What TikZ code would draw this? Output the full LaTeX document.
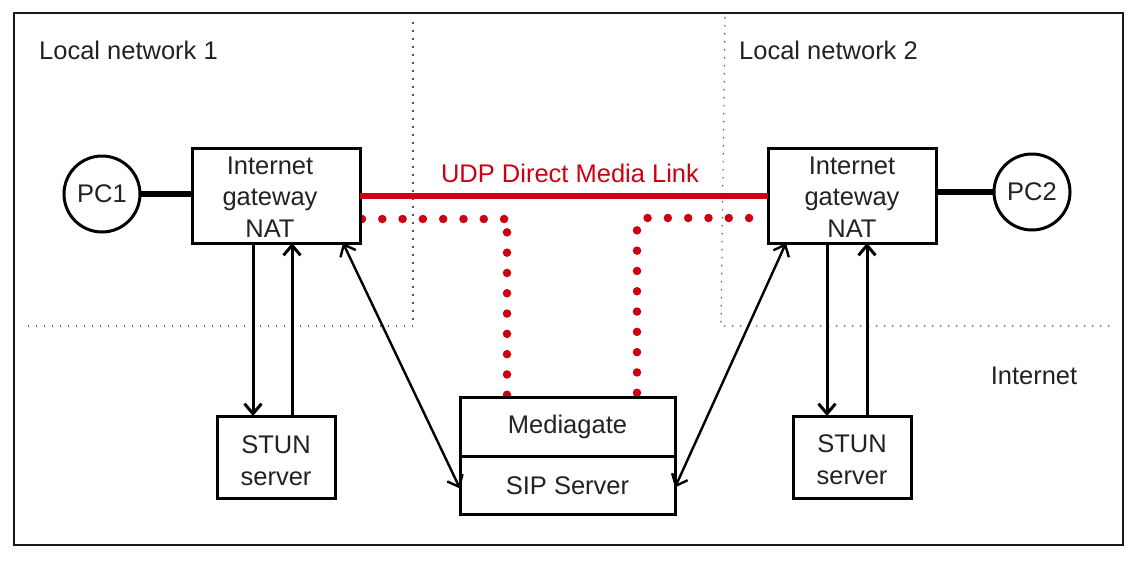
\documentclass[tikz,border=0pt]{standalone}
\usepackage{fontspec}
\usepackage{xcolor}
\setmainfont{Liberation Sans}
\usetikzlibrary{arrows.meta,positioning,backgrounds}
\definecolor{colorLink}{HTML}{CC0011}
\definecolor{colorText}{HTML}{222222}
\definecolor{colorZone}{HTML}{555555}

\begin{document}
\begin{tikzpicture}[x=1pt,y=-1pt,node distance=52pt,>={Straight Barb[length=10pt,width=17pt]},every node/.append style={align=center,text=colorText,font=\fontsize{25.5}{31.5}\selectfont},int/.style={draw, line width=3pt, circle, outer sep=0pt, inner sep=0pt, minimum size=76pt},box/.style={draw, line width=3pt, rectangle, fill=white, outer sep=0pt, inner sep=0pt},natbox/.style={box, minimum width=168pt, minimum height=95pt},stunbox/.style={box, minimum width=118pt, minimum height=82pt},srvbox/.style={box, minimum width=215pt, minimum height=58.5pt},link/.style={line width=2.4pt,<->},uplink/.style={line width=3pt,->},zone/.style={colorZone, line width=1.2pt, dash pattern=on 1.5pt off 6.5pt},media/.style={colorLink, line width=8.5pt, line cap=round, rounded corners=6pt, dash pattern=on 0pt off 20.3pt},]
    \useasboundingbox (0,0) rectangle (1131,560);
    \draw [line width=2pt, black!90] (14,13) rectangle (1123,545);
    \node [natbox] (GW1) at (276,195.5) {};
    \node [natbox, right=408pt of GW1] (GW2) {};
    \node [xshift=-6pt, yshift=-1.5pt] (GW1txt) at (GW1) {Internet\\gateway\\NAT};
    \node [yshift=-1.5pt] (GW2txt) at (GW2) {Internet\\gateway\\NAT};
    \node [int, left=of GW1, yshift=1.5pt] (PC1) {PC1};
    \node [int, right=58pt of GW2, yshift=3.5pt] (PC2) {PC2};
    \node [stunbox, below=173pt of GW1] (STUN1) {};
    \node [stunbox, below=173pt of GW2] (STUN2) {};
    \node [yshift=-3.5pt] (STUN1txt) at (STUN1) {STUN\\server};
    \node [yshift=-2.5pt] (STUN2txt) at (STUN2) {STUN\\server};
    \node [srvbox] (MG) at (567.5,427) {Mediagate};
    \node [srvbox, below=0pt of MG] (SIP) {SIP Server};
    \node (LAN1) at (128.5,50) {Local network 1};
    \node (LAN2) at (828.5,50) {Local network 2};
    \node (WAN) at (1034,376) {Internet};
    \node [text=colorLink] (UDP) at (570,173) {UDP Direct Media Link};
    \coordinate (zone1top) at (413,22);
    \coordinate (zone1in) at (413,326);
    \coordinate (zone1out) at (25,326);
    \coordinate (zone2top) at (725,17);
    \coordinate (zone2in) at (721,326);
    \coordinate (zone2out) at (1113,326);
    \coordinate (media1gw) at ([yshift=-23.5pt]GW1.east);
    \coordinate (media1mg) at ([xshift=-60.5pt]MG.north);
    \begin{scope}[on background layer]
    \draw [zone] (zone1top) -- (zone1in) -- (zone1out);
    \draw [zone] (zone2top) -- (zone2in) -- (zone2out);
    \draw [media, dash phase=18.3pt] (media1gw) -- (media1gw -| media1mg);
    \draw [media, dash phase=17.3pt] (media1mg) -- (media1gw -| media1mg);
    \draw [media, dash phase=15.3pt] ([xshift=69.5pt]MG.north) |- ([yshift=-22.5pt]GW2.west);
    \end{scope}
    \path[draw, colorLink, line width=6pt] (GW1.east) -- (GW2.west);
    \path[draw, line width=6pt] (PC1.east) -- (PC1.east -| GW1.west);
    \path[draw, line width=6pt] (PC2.west) -- (PC2.west -| GW2.east);
    \path[draw, uplink] ([xshift=-23pt]GW1.south) -- ([xshift=-23pt]STUN1.north);
    \path[draw, uplink] ([xshift=16pt]STUN1.north) -- ([xshift=16pt]GW1.south);
    \path[draw, uplink] ([xshift=-25pt]GW2.south) -- ([xshift=-25pt]STUN2.north);
    \path[draw, uplink] ([xshift=15pt]STUN2.north) -- ([xshift=15pt]GW2.south);
    \path[draw, link] ([xshift=-17pt]GW1.south east) -- ([yshift=-3pt]SIP.west);
    \path[draw, link] ([xshift=18pt]GW2.south west) -- ([yshift=-2pt]SIP.east);
\end{tikzpicture}
\end{document}
